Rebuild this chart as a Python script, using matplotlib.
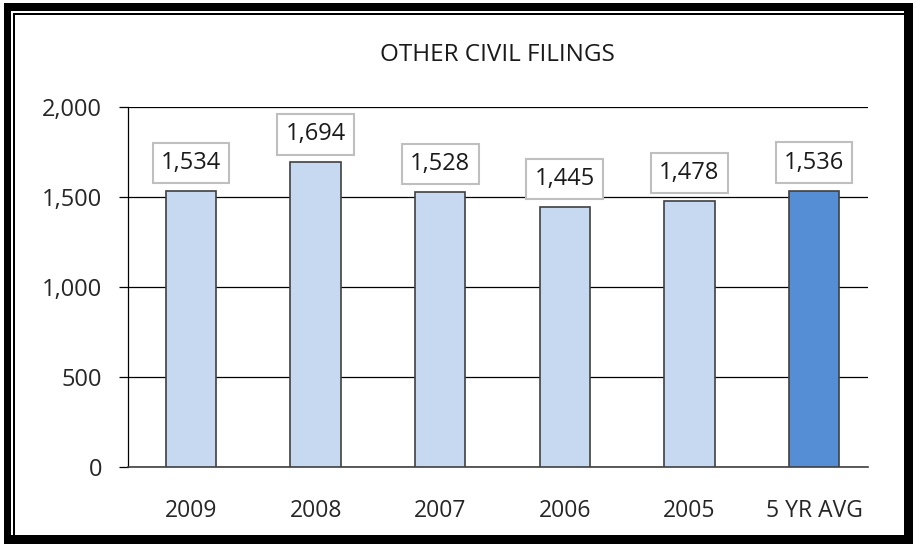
import matplotlib.pyplot as plt
from matplotlib.patches import Rectangle

# chart data
categories = ['2009', '2008', '2007', '2006', '2005', '5 YR AVG']
filings = [1534, 1694, 1528, 1445, 1478, 1536]
bar_colors = ['#c6d9f1', '#c6d9f1', '#c6d9f1', '#c6d9f1', '#c6d9f1', '#558ed5']
yticks = [0, 500, 1000, 1500, 2000]

plt.rcParams['font.family'] = ['Open Sans', 'DejaVu Sans']

W, H = 914, 544
fig = plt.figure(figsize=(W / 100, H / 100), dpi=100)
fig.patch.set_facecolor('white')


def px_rect(x0, y0, x1, y1, color='black'):
    # rectangle given in image pixel coords (origin top-left)
    fig.add_artist(Rectangle((x0 / W, 1 - y1 / H), (x1 - x0) / W, (y1 - y0) / H,
                             transform=fig.transFigure, facecolor=color,
                             edgecolor='none', zorder=10))


# double frame round the picture
px_rect(4, 3, 913, 11)
px_rect(4, 3, 11, 544)
px_rect(904, 3, 913, 544)
px_rect(4, 535, 913, 544)
px_rect(13, 13, 904, 15)
px_rect(13, 13, 15, 535)

ax = fig.add_axes([128 / W, 1 - 467 / H, 740 / W, 360 / H])
x = list(range(len(categories)))
ax.bar(x, filings, width=0.405, color=bar_colors, edgecolor='#404040',
       linewidth=1.2, zorder=3)

for xi, v in zip(x, filings):
    ax.annotate(f'{v:,}', (xi, v), xytext=(0, 20), textcoords='offset points',
                ha='center', va='center', fontsize=17, color='#1a1a1a',
                bbox=dict(boxstyle='square,pad=0.35', facecolor='white',
                          edgecolor='#bfbfbf', linewidth=1.5), zorder=4)

ax.set_xlim(-0.506, 5.433)
ax.set_ylim(0, 2000)
ax.set_yticks(yticks)
ax.set_yticklabels([f'{t:,}' for t in yticks])
ax.set_xticks(x)
ax.set_xticklabels(categories)

ax.yaxis.grid(True, color='black', linewidth=0.9, zorder=0)
ax.set_axisbelow(True)
for s in ['top', 'right']:
    ax.spines[s].set_visible(False)
ax.spines['left'].set_color('black')
ax.spines['left'].set_linewidth(0.9)
ax.spines['bottom'].set_color('#404040')
ax.spines['bottom'].set_linewidth(1.2)

ax.tick_params(axis='y', length=6.5, width=0.9, color='black', pad=12,
               labelsize=17, labelcolor='#262626')
ax.tick_params(axis='x', length=0, pad=23, labelsize=16.5, labelcolor='#262626')

fig.text(497 / W, 1 - 55 / H, 'OTHER CIVIL FILINGS', ha='center', va='center',
         fontsize=17.5, color='#1a1a1a')

fig.savefig('out.png', dpi=100)
